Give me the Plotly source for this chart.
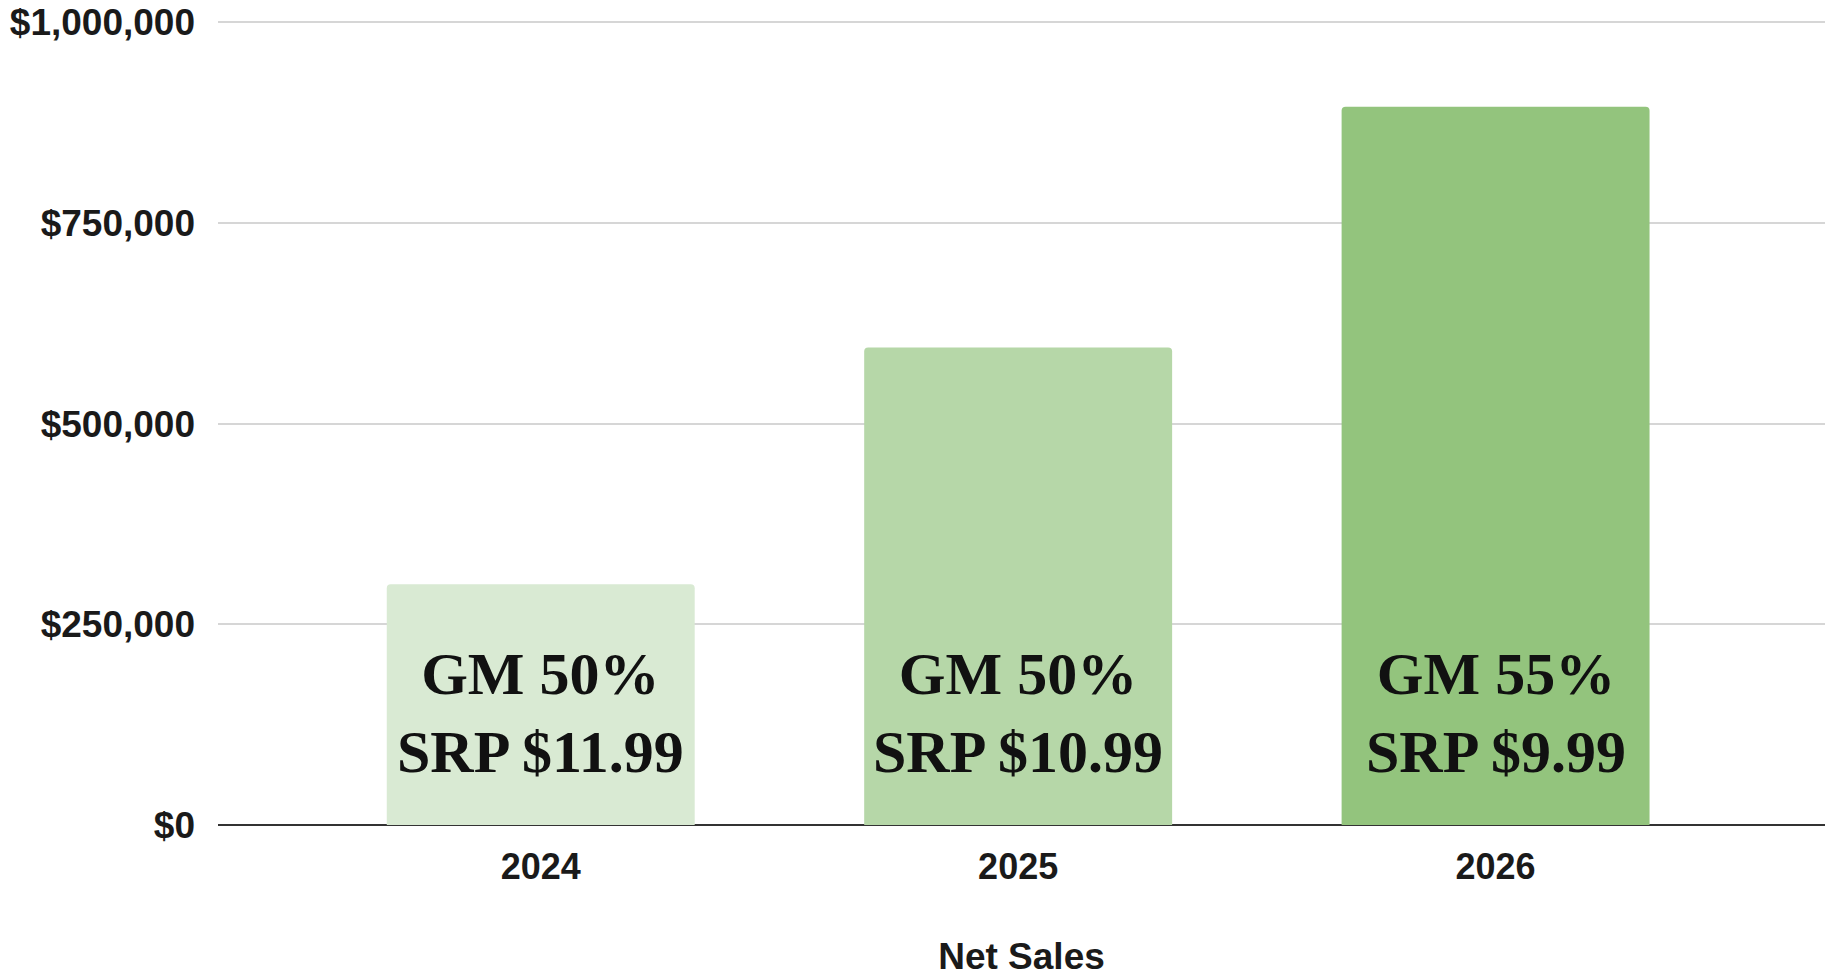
import plotly.graph_objects as go

# Net sales by year with margin / price notes
years = ["2024", "2025", "2026"]
net_sales = [300000, 595000, 895000]
gross_margin = ["GM 50%", "GM 50%", "GM 55%"]
srp = ["SRP $11.99", "SRP $10.99", "SRP $9.99"]
bar_colors = ["#d9ead3", "#b6d7a8", "#93c47d"]

y_ticks = [0, 250000, 500000, 750000, 1000000]
y_tick_text = ["$0", "$250,000", "$500,000", "$750,000", "$1,000,000"]

sans = "Liberation Sans, Arial, sans-serif"
serif = "Liberation Serif, Times New Roman, serif"

fig = go.Figure()
fig.add_trace(go.Bar(
    x=years,
    y=net_sales,
    marker=dict(color=bar_colors, line=dict(width=0)),
    hoverinfo="skip",
))

# Two-line notes inside each bar (category axis: position by index)
for i, (gm, price) in enumerate(zip(gross_margin, srp)):
    fig.add_annotation(
        x=i, y=139000, xref="x", yref="y",
        text=f"{gm}<br>{price}",
        showarrow=False,
        xanchor="center", yanchor="middle",
        font=dict(family=serif, size=60, color="#111111", weight="bold"),
    )

fig.update_layout(
    width=1825, height=977,
    margin=dict(l=218, r=0, t=20, b=152, pad=0),
    paper_bgcolor="white",
    plot_bgcolor="white",
    showlegend=False,
    bargap=0.355,
    barcornerradius=4,
    font=dict(family=sans, color="#1a1a1a"),
)

fig.update_xaxes(
    type="category",
    range=[-0.676, 2.69],
    showgrid=False,
    showline=False,
    zeroline=False,
    ticks="",
    ticklabelstandoff=17,
    tickfont=dict(family=sans, size=36, color="#1a1a1a", weight="bold"),
    title=dict(
        text="Net Sales",
        font=dict(family=sans, size=37, color="#1a1a1a", weight="bold"),
        standoff=58,
    ),
)

fig.update_yaxes(
    range=[0, 1003000],
    tickvals=y_ticks,
    ticktext=y_tick_text,
    showgrid=True,
    gridcolor="#d6d6d6",
    gridwidth=2,
    zeroline=True,
    zerolinecolor="#333333",
    zerolinewidth=2,
    showline=False,
    ticks="",
    ticklabelstandoff=22,
    tickfont=dict(family=sans, size=37, color="#1a1a1a", weight="bold"),
)

fig.write_html("out.html")
